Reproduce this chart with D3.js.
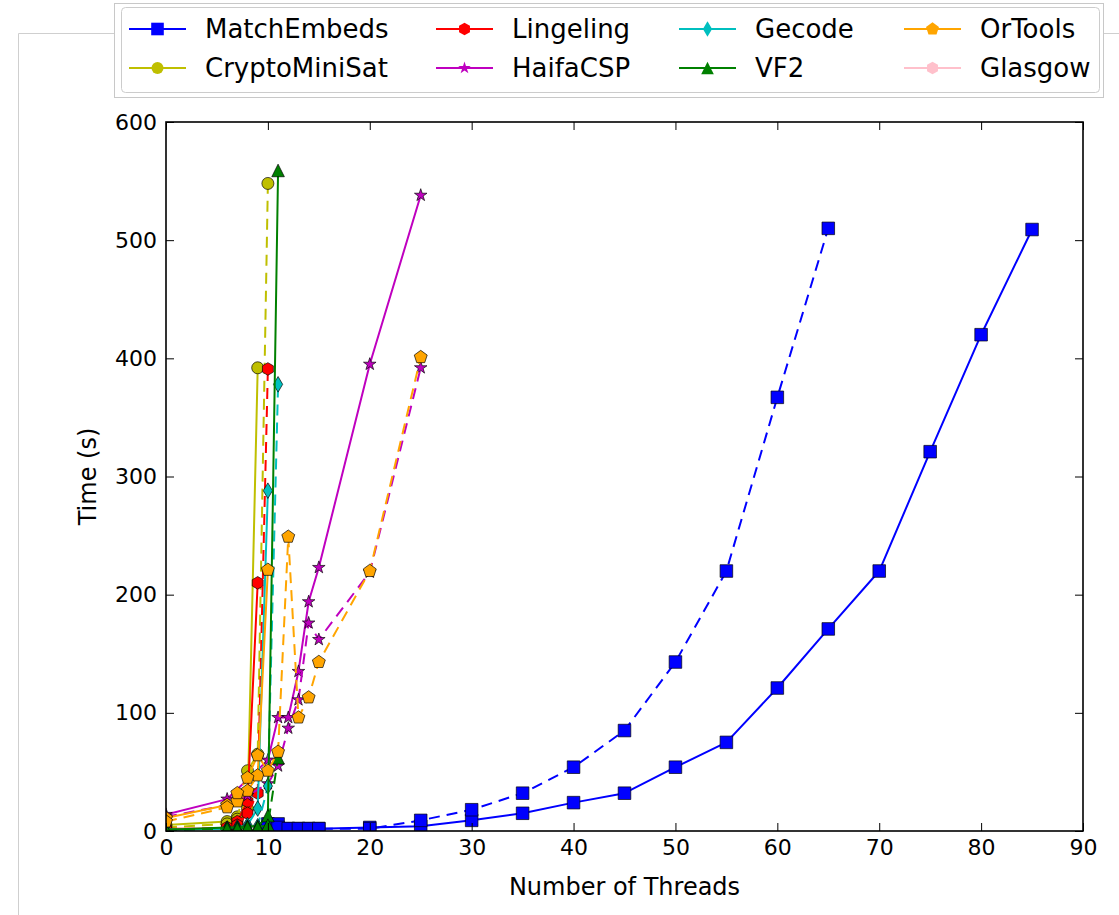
<!DOCTYPE html>
<html>
<head>
<meta charset="utf-8">
<script src="https://cdn.jsdelivr.net/npm/d3@7"></script>
<style>
  body { margin: 0; background: #fff; }
  svg { display: block; }
  text { font-family: "DejaVu Sans", sans-serif; fill: #000; }
</style>
</head>
<body>
<svg id="chart" width="1119" height="915"></svg>
<script>
// ---- tick labels ----
const xTickValues = [0, 10, 20, 30, 40, 50, 60, 70, 80, 90];
const yTickValues = [0, 100, 200, 300, 400, 500, 600];

// ---- MatchEmbeds ----
const matchEmbedsThreads = [10, 11, 12, 13, 14, 15, 20, 25, 30, 35, 40, 45, 50, 55, 60, 65, 70, 75, 80, 85];
const matchEmbedsTimes   = [6, 6, 2, 2, 2, 2, 3, 4, 9, 15, 24, 32, 54, 75, 121, 171, 220, 321, 420, 509];
const matchEmbedsThreads2 = [10, 11, 12, 13, 14, 15, 20, 25, 30, 35, 40, 45, 50, 55, 60, 65];
const matchEmbedsTimes2   = [3, 3, 2, 2, 2, 2, 2, 9, 18, 32, 54, 85, 143, 220, 367, 510];

// ---- CryptoMiniSat ----
const cryptoThreads = [0, 6, 7, 8, 9];
const cryptoTimes   = [5, 8, 12, 19, 392];
const cryptoThreads2 = [0, 6, 7, 8, 9, 10];
const cryptoTimes2   = [3, 6, 10, 51, 65, 548];

// ---- Lingeling ----
const lingelingThreads = [0, 6, 7, 8, 9];
const lingelingTimes   = [2, 2, 8, 25, 210];
const lingelingThreads2 = [0, 6, 7, 8, 9, 10];
const lingelingTimes2   = [1, 3, 5, 15, 32, 391];

// ---- HaifaCSP ----
const haifaThreads = [0, 6, 10, 11, 12, 13, 14, 15, 20, 25];
const haifaTimes   = [14, 27, 60, 96, 96, 135, 194, 223, 395, 538];
const haifaThreads2 = [0, 6, 8, 10, 11, 12, 13, 14, 15, 20, 25];
const haifaTimes2   = [12, 22, 30, 40, 55, 87, 111, 176, 162, 219, 392];

// ---- Gecode ----
const gecodeThreads = [0, 6, 7, 8, 9, 10];
const gecodeTimes   = [1, 2, 3, 5, 19, 288];
const gecodeThreads2 = [0, 6, 7, 8, 9, 10, 11];
const gecodeTimes2   = [1, 2, 2, 3, 4, 38, 378];

// ---- VF2 ----
const vf2Threads = [0, 6, 7, 8, 9, 10, 11];
const vf2Times   = [1, 3, 3, 4, 4, 13, 559];
const vf2Threads2 = [0, 6, 7, 8, 9, 10, 11];
const vf2Times2   = [1, 2, 2, 3, 3, 5, 62];

// ---- OrTools ----
const orToolsThreads = [0, 6, 7, 8, 9, 10];
const orToolsTimes   = [11, 22, 25, 34, 47, 221];
const orToolsThreads2 = [0, 6, 7, 8, 9, 10, 11, 12, 13, 14, 15, 20, 25];
const orToolsTimes2   = [8, 20, 32, 45, 64, 51, 67, 249, 96, 113, 143, 220, 401];

// ---- Glasgow ----
const glasgowThreads = [];
const glasgowTimes   = [];

// solver names in plotting (and legend) order
const solverNames = ["MatchEmbeds", "CryptoMiniSat", "Lingeling", "HaifaCSP", "Gecode", "VF2", "OrTools", "Glasgow"];

const zipPts = (xs, ys) => xs.map((x, i) => ({ x, y: ys[i] }));

const solvers = [
  { name: "MatchEmbeds",   color: "#0000ff", marker: "square",   solid: zipPts(matchEmbedsThreads, matchEmbedsTimes), dashed: zipPts(matchEmbedsThreads2, matchEmbedsTimes2) },
  { name: "CryptoMiniSat", color: "#bfbf00", marker: "circle",   solid: zipPts(cryptoThreads, cryptoTimes),           dashed: zipPts(cryptoThreads2, cryptoTimes2) },
  { name: "Lingeling",     color: "#ff0000", marker: "hexagon",  solid: zipPts(lingelingThreads, lingelingTimes),     dashed: zipPts(lingelingThreads2, lingelingTimes2) },
  { name: "HaifaCSP",      color: "#bf00bf", marker: "star",     solid: zipPts(haifaThreads, haifaTimes),             dashed: zipPts(haifaThreads2, haifaTimes2) },
  { name: "Gecode",        color: "#00bfbf", marker: "diamond",  solid: zipPts(gecodeThreads, gecodeTimes),           dashed: zipPts(gecodeThreads2, gecodeTimes2) },
  { name: "VF2",           color: "#008000", marker: "triangle", solid: zipPts(vf2Threads, vf2Times),                 dashed: zipPts(vf2Threads2, vf2Times2) },
  { name: "OrTools",       color: "#ffa500", marker: "pentagon", solid: zipPts(orToolsThreads, orToolsTimes),         dashed: zipPts(orToolsThreads2, orToolsTimes2) },
  { name: "Glasgow",       color: "#ffc0cb", marker: "hexagon",  solid: zipPts(glasgowThreads, glasgowTimes),         dashed: [] }
];

// ---- layout ----
const svg = d3.select("#chart");
const plot = { left: 166, right: 1083, top: 122, bottom: 831 };
const TICK_FONT = 22;
const LABEL_FONT = 24;
const LEGEND_FONT = 26;

const x = d3.scaleLinear().domain([0, 90]).range([plot.left, plot.right]);
const y = d3.scaleLinear().domain([0, 600]).range([plot.bottom, plot.top]);

// outer frame of the output cell
svg.append("path")
  .attr("d", "M114,33.5H18.5V915 M1104,33.5H1119")
  .attr("fill", "none").attr("stroke", "#cfcfcf").attr("stroke-width", 1);

// ---- marker shapes ----
function polygon(n, r, rot) {
  const pts = [];
  for (let i = 0; i < n; i++) {
    const a = rot + i * 2 * Math.PI / n;
    pts.push([r * Math.cos(a), r * Math.sin(a)]);
  }
  return "M" + pts.map(p => p[0].toFixed(2) + "," + p[1].toFixed(2)).join("L") + "Z";
}
function markerPath(shape) {
  switch (shape) {
    case "square":   return "M-6.3,-6.3H6.3V6.3H-6.3Z";
    case "circle":   return "M6,0A6,6 0 1,1 -6,0A6,6 0 1,1 6,0Z";
    case "hexagon":  return polygon(6, 6.3, -Math.PI / 2);
    case "pentagon": return polygon(5, 6.8, -Math.PI / 2);
    case "diamond":  return "M0,-7.8L4.6,0L0,7.8L-4.6,0Z";
    case "triangle": return "M0,-6.3L6.3,6.3L-6.3,6.3Z";
    case "star": {
      const pts = [];
      for (let i = 0; i < 10; i++) {
        const r = i % 2 === 0 ? 6.6 : 6.6 * 0.382;
        const a = -Math.PI / 2 + i * Math.PI / 5;
        pts.push([r * Math.cos(a), r * Math.sin(a)]);
      }
      return "M" + pts.map(p => p[0].toFixed(2) + "," + p[1].toFixed(2)).join("L") + "Z";
    }
  }
  return "";
}

// ---- clipping to the axes ----
svg.append("defs").append("clipPath").attr("id", "plotClip")
  .append("rect")
  .attr("x", plot.left).attr("y", plot.top)
  .attr("width", plot.right - plot.left).attr("height", plot.bottom - plot.top);

const dataLayer = svg.append("g").attr("clip-path", "url(#plotClip)");
const line = d3.line().x(d => x(d.x)).y(d => y(d.y));

solvers.forEach(s => {
  [["solid", null], ["dashed", "11,7"]].forEach(([key, dash]) => {
    const pts = s[key];
    if (!pts.length) return;
    const g = dataLayer.append("g").attr("class", "series " + key);
    g.append("path")
      .datum(pts)
      .attr("d", line)
      .attr("fill", "none")
      .attr("stroke", s.color)
      .attr("stroke-width", 2)
      .attr("stroke-linejoin", "round")
      .attr("stroke-dasharray", dash);
    g.selectAll("path.marker")
      .data(pts)
      .join("path")
      .attr("class", "marker")
      .attr("d", markerPath(s.marker))
      .attr("transform", d => `translate(${x(d.x)},${y(d.y)})`)
      .attr("fill", s.color)
      .attr("stroke", "#000")
      .attr("stroke-width", 0.9)
      .attr("stroke-opacity", 0.75);
  });
});

// ---- axes (ticks point inward on all four sides) ----
const TICK = 8;
const xAxis = svg.append("g")
  .attr("transform", `translate(0,${plot.bottom})`)
  .call(d3.axisBottom(x).tickValues(xTickValues).tickSizeInner(-TICK).tickSizeOuter(0).tickPadding(8));
const xTop = svg.append("g")
  .attr("transform", `translate(0,${plot.top})`)
  .call(d3.axisTop(x).tickValues(xTickValues).tickSizeInner(-TICK).tickSizeOuter(0).tickFormat(""));
const yAxis = svg.append("g")
  .attr("transform", `translate(${plot.left},0)`)
  .call(d3.axisLeft(y).tickValues(yTickValues).tickSizeInner(-TICK).tickSizeOuter(0).tickPadding(9));
const yRight = svg.append("g")
  .attr("transform", `translate(${plot.right},0)`)
  .call(d3.axisRight(y).tickValues(yTickValues).tickSizeInner(-TICK).tickSizeOuter(0).tickFormat(""));

[xAxis, xTop, yAxis, yRight].forEach(a => {
  a.select(".domain").remove();
  a.selectAll(".tick line").attr("stroke", "#000").attr("stroke-width", 1);
  a.selectAll(".tick text").attr("font-size", TICK_FONT).attr("font-family", "DejaVu Sans, sans-serif").attr("fill", "#000");
});

// axes frame
svg.append("rect")
  .attr("x", plot.left).attr("y", plot.top)
  .attr("width", plot.right - plot.left).attr("height", plot.bottom - plot.top)
  .attr("fill", "none").attr("stroke", "#000").attr("stroke-width", 1.6);

// axis titles
svg.append("text")
  .attr("x", (plot.left + plot.right) / 2).attr("y", 895)
  .attr("text-anchor", "middle").attr("font-size", LABEL_FONT)
  .text("Number of Threads");
svg.append("text")
  .attr("transform", `translate(96,${(plot.top + plot.bottom) / 2}) rotate(-90)`)
  .attr("text-anchor", "middle").attr("font-size", LABEL_FONT)
  .text("Time (s)");

// ---- legend ----
const legend = svg.append("g");
legend.append("rect")
  .attr("x", 114.5).attr("y", 3.5).attr("width", 989).attr("height", 94)
  .attr("fill", "#fff").attr("stroke", "#c8c8c8");
legend.append("rect")
  .attr("x", 121.5).attr("y", 7.5).attr("width", 978).attr("height", 85).attr("rx", 4)
  .attr("fill", "#fff").attr("stroke", "#cccccc");

const colX = [129, 436, 679, 904];
const rowY = [29, 68];
solverNames.forEach((name, i) => {
  const s = solvers.find(d => d.name === name);
  const cx = colX[Math.floor(i / 2)];
  const cy = rowY[i % 2];
  const item = legend.append("g").attr("transform", `translate(${cx},${cy})`);
  item.append("line").attr("x1", 0).attr("x2", 57).attr("y1", 0).attr("y2", 0)
    .attr("stroke", s.color).attr("stroke-width", 2);
  item.append("path").attr("d", markerPath(s.marker))
    .attr("transform", "translate(28.5,0)")
    .attr("fill", s.color);
  item.append("text").attr("x", 76).attr("y", 0).attr("dy", "0.35em")
    .attr("font-size", LEGEND_FONT).text(name);
});
</script>
</body>
</html>
